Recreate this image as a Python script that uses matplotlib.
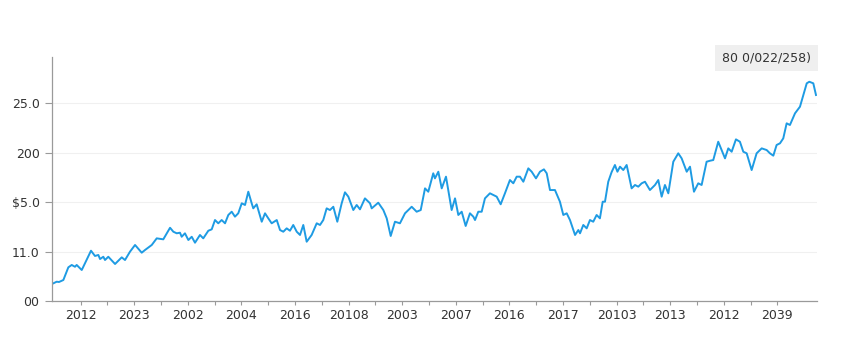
import numpy as np
import matplotlib
matplotlib.use('Agg')
import matplotlib.pyplot as plt

# series (x = week index, y = value)
week = [0, 4.7, 7.0, 11.4, 16.4, 19.8, 23.1, 24.8, 29.9, 39.2,
	43.2, 46.6, 48.3, 51.6, 53.3, 56.6, 63.4, 70.1, 73.4, 78.4,
	83.5, 90.2, 93.5, 100.3, 105.3, 111.9, 118.7, 122.0, 125.4, 128.7,
	130.4, 133.7, 137.1, 140.5, 143.8, 148.8, 152.1, 157.2, 160.6, 163.9,
	167.2, 170.6, 174.0, 177.3, 180.7, 184.0, 187.3, 190.8, 194.1, 197.4,
	200.8, 202.4, 205.8, 210.9, 214.2, 217.5, 220.9, 226.0, 229.3, 232.6,
	236.0, 239.3, 242.6, 246.1, 249.4, 252.7, 256.1, 261.1, 266.2, 269.5,
	272.8, 276.2, 279.5, 282.9, 286.9, 291.3, 294.6, 298.0, 303.0, 306.4,
	309.7, 314.7, 319.8, 321.5, 328.1, 333.2, 336.6, 340.6, 344.9, 349.9,
	355.0, 361.7, 366.7, 370.8, 375.1, 378.4, 383.4, 385.1, 388.5, 391.9,
	396.2, 401.9, 405.3, 408.6, 412.0, 416.0, 420.3, 423.7, 425.4, 428.7,
	432.1, 435.4, 440.4, 443.8, 447.2, 451.2, 455.5, 460.5, 463.9, 467.3,
	470.6, 474.0, 479.0, 482.4, 486.7, 490.7, 494.7, 497.5, 500.8, 505.8,
	510.8, 514.2, 517.6, 520.9, 526.0, 529.3, 531.0, 534.3, 537.7, 541.0,
	544.3, 547.7, 551.0, 553.8, 556.1, 559.4, 562.8, 566.1, 568.6, 571.2,
	574.5, 577.9, 582.9, 586.3, 589.6, 593.0, 596.3, 601.3, 606.4, 609.7,
	613.1, 616.4, 619.8, 624.8, 629.8, 633.2, 638.3, 641.6, 645.6, 649.9,
	653.3, 658.3, 661.7, 665.0, 670.0, 673.4, 676.8, 680.1, 683.5, 687.8,
	691.8, 695.2, 698.6, 703.6, 708.6, 713.7, 718.7, 722.0, 725.4, 728.7,
	732.1, 735.4, 738.8, 742.1, 747.2, 752.2, 755.6, 759.0, 761.6, 765.6,
	768.3]
value = [17.2, 19.5, 19.2, 21.2, 34.0, 36.4, 34.6, 36.4, 31.3, 50.8,
	45.5, 46.5, 42.4, 44.7, 41.4, 44.7, 37.4, 44.1, 41.4, 49.8,
	56.6, 48.8, 51.5, 56.6, 63.3, 62.3, 74.0, 70.0, 68.4, 69.0,
	64.9, 68.4, 61.6, 64.9, 58.9, 66.7, 63.3, 71.0, 72.4, 81.8,
	78.5, 81.8, 78.5, 86.9, 90.2, 85.2, 88.6, 98.7, 97.0, 110.4,
	98.7, 93.6, 97.7, 80.1, 88.6, 83.5, 78.5, 81.8, 71.7, 70.0,
	73.4, 71.0, 76.8, 70.0, 66.7, 76.8, 59.9, 66.7, 78.5, 76.8,
	81.8, 93.6, 91.9, 95.2, 80.1, 98.7, 109.8, 105.4, 91.9, 97.0,
	92.6, 103.7, 98.7, 93.6, 99.3, 91.9, 83.5, 65.7, 80.1, 78.5,
	88.6, 95.2, 90.2, 91.9, 113.8, 110.4, 129.0, 123.9, 130.6, 113.8,
	125.6, 91.9, 103.7, 86.9, 90.2, 75.8, 88.6, 85.2, 81.8, 90.2,
	90.2, 103.7, 108.8, 107.1, 105.4, 97.7, 108.8, 122.2, 118.9, 125.6,
	125.6, 120.5, 134.0, 130.6, 123.9, 130.6, 133.0, 129.0, 112.1, 112.1,
	100.3, 86.9, 88.6, 81.8, 66.7, 71.7, 68.4, 76.8, 73.4, 81.8,
	80.1, 86.9, 83.5, 100.3, 100.3, 120.5, 130.3, 137.4, 130.6, 135.7,
	132.3, 137.4, 113.8, 117.2, 115.5, 118.9, 120.5, 112.1, 117.2, 122.2,
	105.4, 117.2, 108.8, 140.7, 149.2, 144.1, 130.6, 135.7, 110.4, 118.9,
	117.2, 140.7, 141.7, 142.4, 160.9, 152.5, 144.1, 154.2, 150.8, 163.3,
	160.9, 150.8, 149.2, 132.3, 149.2, 154.2, 152.5, 149.2, 146.8, 157.6,
	159.3, 164.3, 179.5, 177.8, 189.6, 196.3, 208.1, 219.9, 221.5, 219.9,
	208.1]

x_labels = ['2012', '2023', '2002', '2004', '2016', '20108', '2003',
	'2007', '2016', '2017', '20103', '2013', '2012', '2039']
y_ticks = [0, 50, 100, 150, 200]
y_labels = ['00', '11.0', '$5.0', '200', '25.0']
note = '80 0/022/258)'

fig = plt.figure(figsize=(8.57, 3.58), dpi=100)
ax = fig.add_axes([0.0607, 0.1592, 0.8926, 0.6816])

ax.plot(week, value, color='#1e9be3', linewidth=1.4, solid_joinstyle='round')

ax.set_xlim(0, 769.3)
ax.set_ylim(0, 246.5)

major = 28.7 + 53.9 * np.arange(len(x_labels))
ax.set_xticks(major)
ax.set_xticklabels(x_labels)
ax.set_xticks(major[:-1] + 26.95, minor=True)
ax.set_yticks(y_ticks)
ax.set_yticklabels(y_labels)

ax.tick_params(axis='x', which='both', length=3, width=0.8, color='#9a9a9a',
	labelsize=9, labelcolor='#333333', pad=3)
ax.tick_params(axis='y', length=5, width=0.8, color='#9a9a9a',
	labelsize=9, labelcolor='#333333', pad=4)

ax.grid(axis='y', color='#f0f0f0', linewidth=0.8)
ax.set_axisbelow(True)
for s in ['top', 'right']:
	ax.spines[s].set_visible(False)
for s in ['left', 'bottom']:
	ax.spines[s].set_color('#9a9a9a')
	ax.spines[s].set_linewidth(0.9)

# value box in the top right corner
ax.text(0.894, 0.838, note, transform=fig.transFigure, ha='center', va='center',
	fontsize=9, color='#333333',
	bbox=dict(boxstyle='square,pad=0.55', facecolor='#efefef', edgecolor='none'))

fig.savefig('out.png', dpi=100)
